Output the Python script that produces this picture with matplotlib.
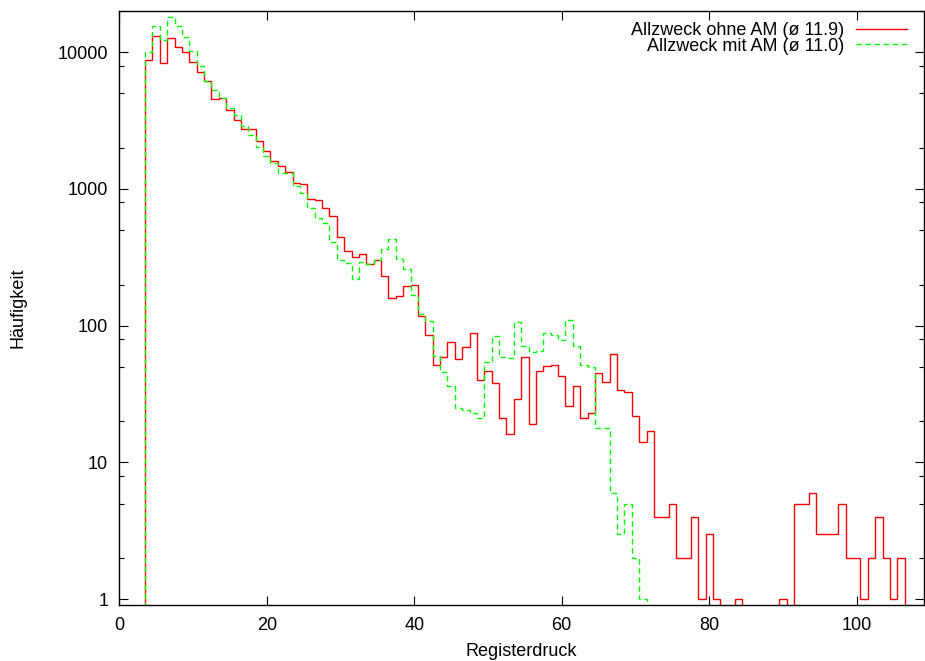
import numpy as np
import matplotlib
matplotlib.use("Agg")
import matplotlib.pyplot as plt
from matplotlib.ticker import FixedLocator, LogLocator, NullLocator, FixedFormatter

# Registerdruck (bin centres) and Häufigkeit per series
druck_ohne = list(range(4, 107))
haeufig_ohne = [8800, 13150, 8400, 12650, 11000, 10000, 8450, 7150, 6200, 4550,
                4650, 3800, 3200, 2750, 2750, 2250, 1900, 1600, 1470, 1340,
                1100, 1090, 850, 830, 730, 630, 443, 354, 320, 333,
                283, 302, 231, 160, 166, 195, 200, 118, 85, 52,
                59, 76, 57, 70, 89, 40, 47, 38, 21, 16,
                29, 59, 19, 47, 51, 52, 43, 26, 36, 21,
                23, 45, 39, 62, 34, 33, 22, 14, 17, 4,
                4, 5, 2, 2, 4, 1, 3, 1, 0, 0,
                1, 0, 0, 0, 0, 0, 1, 0, 5, 5,
                6, 3, 3, 3, 5, 2, 2, 1, 2, 4,
                2, 1, 2]

druck_mit = list(range(4, 72))
haeufig_mit = [10000, 15570, 12300, 18000, 15650, 12870, 10280, 7980, 6200, 5300,
               4660, 3890, 3475, 2890, 2500, 2040, 1730, 1560, 1303, 1320,
               1055, 939, 723, 611, 567, 411, 302, 286, 218, 294,
               282, 302, 362, 428, 306, 259, 169, 121, 109, 60,
               46, 36, 25, 24, 23, 21, 54, 84, 59, 58,
               107, 71, 64, 65, 89, 86, 78, 111, 71, 52,
               50, 18, 18, 6, 3, 5, 2, 1]

label_ohne = "Allzweck ohne AM (ø 11.9)"
label_mit = "Allzweck mit AM (ø 11.0)"

xticks = [0, 20, 40, 60, 80, 100]
yticks = [1, 10, 100, 1000, 10000]


def kanten(mitten):
    m = np.asarray(mitten, dtype=float)
    return np.append(m - 0.5, m[-1] + 0.5)


plt.rcParams['font.family'] = ['Liberation Sans', 'DejaVu Sans']
plt.rcParams['font.size'] = 13

fig = plt.figure(figsize=(9.25, 6.61), dpi=100)
ax = fig.add_axes([119.3 / 925, 56.5 / 661, 804.2 / 925, 593.5 / 661])

ax.stairs(haeufig_ohne, kanten(druck_ohne), baseline=0, color='#ff0000',
          linewidth=1.0, label=label_ohne)
ax.stairs(haeufig_mit, kanten(druck_mit), baseline=0, color='#00ff00',
          linewidth=1.0, linestyle=(0, (4, 2.5)), label=label_mit)

ax.set_yscale('log')
ax.set_xlim(0, 109.06)
ax.set_ylim(0.913, 20050)

ax.xaxis.set_major_locator(FixedLocator(xticks))
ax.xaxis.set_minor_locator(NullLocator())
ax.yaxis.set_major_locator(FixedLocator(yticks))
ax.yaxis.set_major_formatter(FixedFormatter([str(v) for v in yticks]))
ax.yaxis.set_minor_locator(LogLocator(base=10, subs=(2, 5, 8)))
ax.yaxis.set_minor_formatter(FixedFormatter([]))

ax.tick_params(which='both', direction='in', top=True, right=True, width=0.8)
ax.tick_params(which='major', length=6.3)
ax.tick_params(which='minor', length=3.6)
ax.tick_params(axis='x', pad=9)
ax.tick_params(axis='y', pad=8)
for s in ax.spines.values():
    s.set_linewidth(1.0)

ax.set_xlabel("Registerdruck")
ax.set_ylabel("Häufigkeit")
ax.xaxis.set_label_coords(0.5, -0.065)
ax.yaxis.set_label_coords(-0.1148, 0.5)

ax.legend(loc='upper right', frameon=False, markerfirst=False,
          handlelength=2.8, handletextpad=0.7, labelspacing=-0.08,
          borderpad=0, borderaxespad=0,
          bbox_to_anchor=(1 - 16.5 / 804.2, 1 - 11 / 593.5))

fig.savefig("out.png", dpi=100)
